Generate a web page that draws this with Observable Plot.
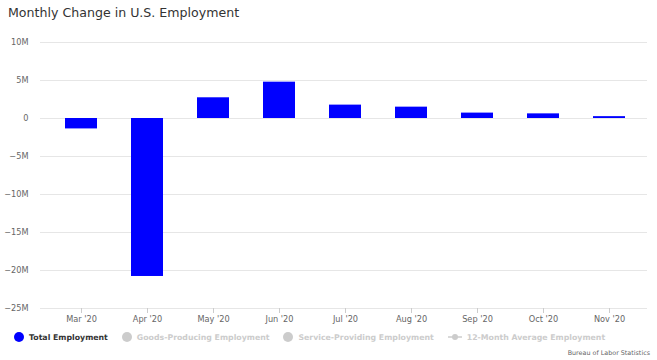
<!DOCTYPE html>
<html><head><meta charset="utf-8">
<script src="https://cdn.jsdelivr.net/npm/d3@7"></script>
<script src="https://cdn.jsdelivr.net/npm/@observablehq/plot@0.6"></script>
<style>
body{margin:0;background:#fff;font-family:"DejaVu Sans",sans-serif;width:657px;height:360px;overflow:hidden}
#title{height:30px;font-size:12.6px;color:#333;padding-left:8px;line-height:25px}
#legend{position:absolute;top:332px;left:14px;font-size:7.8px;display:flex;align-items:center;white-space:nowrap}
#legend span{display:flex;align-items:center;gap:5px;margin-right:14px}
.dot{display:inline-block;width:10px;height:10px;border-radius:50%}
#caption{position:absolute;top:349px;right:7px;font-size:6.4px;color:#666}
#chart{position:absolute;top:30px;left:0}
</style></head><body>
<div id="title">Monthly Change in U.S. Employment</div>
<div id="chart"></div>
<div id="legend"></div>
<div id="caption">Bureau of Labor Statistics</div>
<script>
const months = ["Mar '20","Apr '20","May '20","Jun '20","Jul '20","Aug '20","Sep '20","Oct '20","Nov '20"];
const totalEmployment = [-1371000,-20787000,2725000,4781000,1761000,1493000,711000,610000,245000];
const yTicks = [10e6,5e6,0,-5e6,-10e6,-15e6,-20e6,-25e6];
const legendItems = ["Total Employment","Goods-Producing Employment","Service-Providing Employment","12-Month Average Employment"];

const data = months.map((m,i)=>({month:m, value: totalEmployment[i]}));
const fmt = d => d===0 ? "0" : (d<0?"\u2212":"") + Math.abs(d/1e6) + "M";

const plot = Plot.plot({
  width:657, height:300,
  marginTop:12, marginBottom:22, marginLeft:44, marginRight:12,
  style:{fontFamily:"DejaVu Sans, sans-serif", fontSize:"8.2px", color:"#666", background:"#fff"},
  x:{domain:months, paddingInner:0.52, paddingOuter:0.26, label:null},
  y:{domain:[-25e6,10e6], label:null},
  marks:[
    Plot.ruleY(yTicks,{stroke:"#e6e6e6", strokeWidth:1, insetLeft:-4, insetRight:-2}),
    Plot.barY(data,{x:"month", y:"value", fill:"#0000ff"}),
    Plot.axisX({tickSize:5, stroke:"#ccc", tickPadding:3, fill:"#666"}),
    Plot.axisY({ticks:yTicks, tickFormat:fmt, tickSize:0, tickPadding:16, fill:"#666"})
  ]
});
document.getElementById("chart").appendChild(plot);

const lg = document.getElementById("legend");
legendItems.forEach((t,i)=>{
  const s = document.createElement("span");
  if(i<3){
    const d = document.createElement("i");
    d.className="dot"; d.style.background = i===0?"#0000ff":"#cccccc";
    s.appendChild(d);
  } else {
    const svgNS="http://www.w3.org/2000/svg";
    const sv=document.createElementNS(svgNS,"svg"); sv.setAttribute("width","14"); sv.setAttribute("height","10");
    const l=document.createElementNS(svgNS,"line"); l.setAttribute("x1","0");l.setAttribute("x2","14");l.setAttribute("y1","5");l.setAttribute("y2","5");l.setAttribute("stroke","#ccc");l.setAttribute("stroke-width","1.5");
    const c=document.createElementNS(svgNS,"circle"); c.setAttribute("cx","7");c.setAttribute("cy","5");c.setAttribute("r","3");c.setAttribute("fill","#ccc");
    sv.appendChild(l);sv.appendChild(c);s.appendChild(sv);
  }
  const tx=document.createElement("b");
  tx.textContent=t; tx.style.color = i===0?"#333":"#cccccc"; tx.style.fontWeight = "bold";
  s.appendChild(tx);
  lg.appendChild(s);
});
</script>
</body></html>
